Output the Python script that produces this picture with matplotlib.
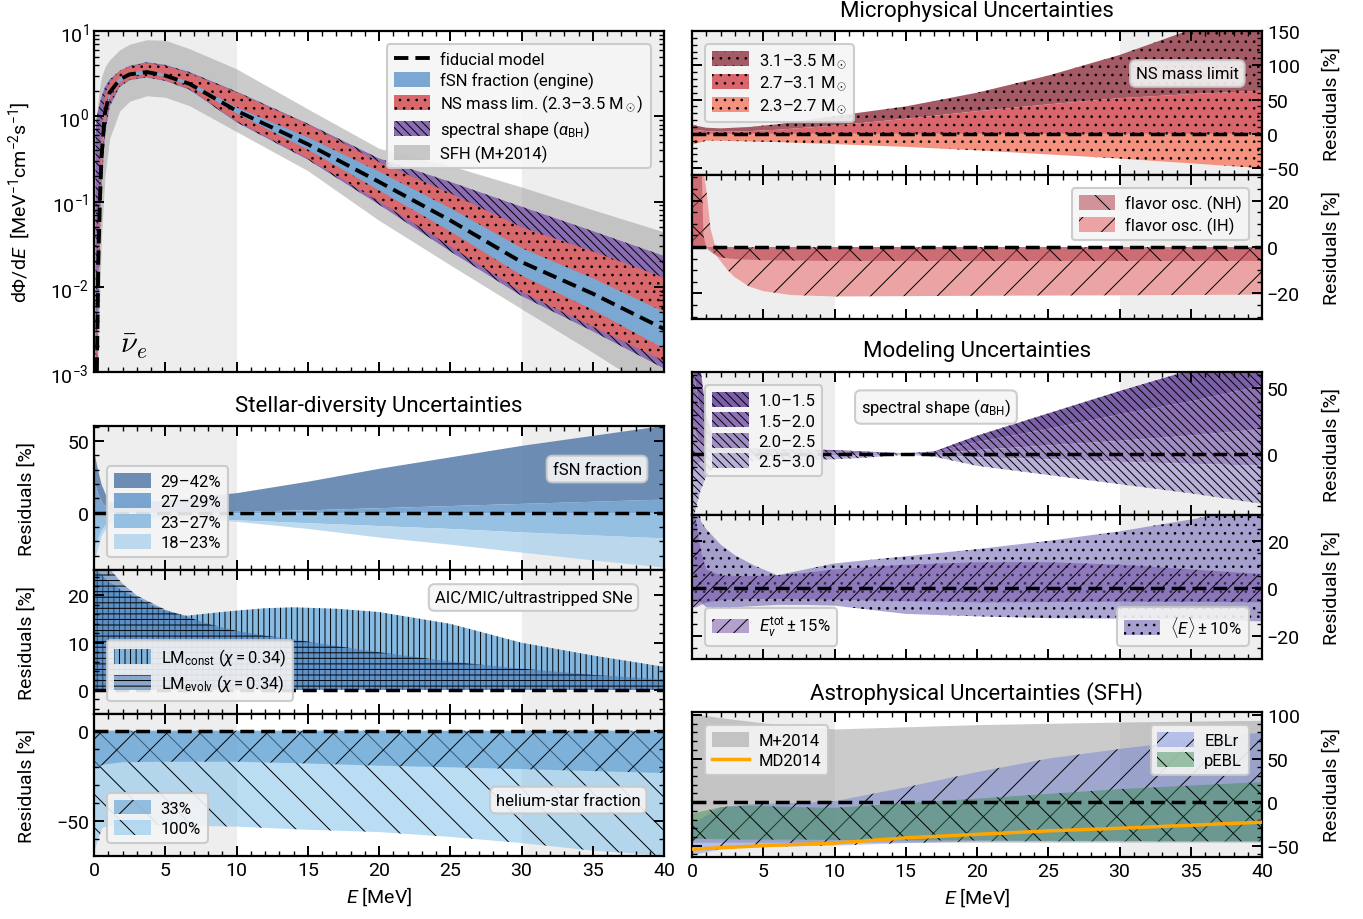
import matplotlib
matplotlib.use("Agg")
import matplotlib.pyplot as plt
from matplotlib import font_manager
from matplotlib.colors import to_rgba
from matplotlib.ticker import MultipleLocator, LogLocator, NullFormatter

# Fuente angosta si esta instalada, si no Roboto
nombres = {f.name for f in font_manager.fontManager.ttflist}
fuente = "Liberation Sans Narrow" if "Liberation Sans Narrow" in nombres else "Roboto"
plt.rcParams["font.family"] = [fuente, "DejaVu Sans"]
plt.rcParams["mathtext.fontset"] = "custom"
plt.rcParams["mathtext.rm"] = fuente
plt.rcParams["mathtext.it"] = fuente + ":italic"
plt.rcParams["mathtext.bf"] = fuente + ":bold"
plt.rcParams["hatch.linewidth"] = 0.7
plt.rcParams["legend.fancybox"] = True
plt.rcParams["legend.facecolor"] = "#f5f5f5"
plt.rcParams["legend.edgecolor"] = "#c8c8c8"
plt.rcParams["legend.framealpha"] = 0.9
plt.rcParams["legend.borderaxespad"] = 0.8

# ---------------- Panel principal: flujo ----------------
E_flujo = [0.1, 0.2, 0.3, 0.42, 0.53, 0.77, 1.1, 1.8, 2.5, 3.7, 5, 6.7, 10, 15, 20, 25, 30, 35, 40]
fiducial = [1e-4, 0.001, 0.02, 0.11, 0.34, 1.1, 1.9, 2.7, 3.1, 3.3, 3.0, 2.4, 1.16, 0.47, 0.17, 0.06, 0.0195, 0.0083, 0.0032]
fsn_alto = [1.4e-4, 0.0014, 0.027, 0.143, 0.425, 1.27, 2.09, 2.92, 3.32, 3.5, 3.18, 2.54, 1.28, 0.57, 0.226, 0.084, 0.0287, 0.0127, 0.0051]
fsn_bajo = [7.5e-5, 0.00075, 0.0156, 0.088, 0.289, 0.99, 1.77, 2.57, 2.98, 3.2, 2.91, 2.3, 1.09, 0.41, 0.136, 0.045, 0.0137, 0.0054, 0.0019]
ns_alto = [4e-4, 0.004, 0.06, 0.3, 0.7, 1.8, 2.5, 3.4, 3.8, 4.2, 3.9, 3.2, 1.9, 0.8, 0.29, 0.125, 0.05, 0.026, 0.0128]
ns_bajo = [5e-5, 0.0005, 0.01, 0.06, 0.2, 0.75, 1.5, 2.3, 2.7, 2.9, 2.65, 2.1, 0.88, 0.32, 0.1, 0.03, 0.0087, 0.0034, 0.00135]
esp_alto = [0.6, 1.0, 1.2, 1.45, 1.7, 2.2, 2.7, 3.4, 3.9, 4.3, 4.0, 3.3, 1.95, 0.82, 0.32, 0.17, 0.087, 0.045, 0.023]
esp_bajo = [3e-5, 0.0003, 0.005, 0.04, 0.15, 0.6, 1.3, 2.2, 2.65, 2.85, 2.6, 2.05, 0.85, 0.31, 0.092, 0.026, 0.0078, 0.003, 0.0011]
sfh_alto = [0.9, 1.1, 1.6, 2.3, 2.9, 3.8, 4.6, 6.0, 7.0, 7.9, 7.8, 6.2, 3.6, 1.22, 0.42, 0.263, 0.148, 0.08, 0.044]
sfh_bajo = [1e-5, 1e-4, 0.002, 0.01, 0.04, 0.2, 0.55, 1.15, 1.5, 1.74, 1.67, 1.33, 0.66, 0.23, 0.06, 0.018, 0.0055, 0.0017, 0.0005]

# ---------------- NS mass limit (residuos %) ----------------
E_ns = [0, 1, 2, 4, 6, 10, 15, 20, 25, 30, 35, 40]
ns_31_35 = [13, 9, 8, 10, 14, 26, 40, 60, 85, 115, 152, 190]
ns_27_31 = [6, 4, 3, 4, 6, 12, 22, 33, 43, 52, 58, 63]
ns_23_27 = [-16, -10, -10, -11, -12, -15, -19, -24, -30, -36, -43, -50]

# ---------------- oscilaciones de sabor ----------------
E_nh = [0, 0.5, 0.7, 0.8, 1.0, 1.5, 2, 3, 5, 10, 20, 30, 40]
nh_alto = [35, 35, 30, 5, 0, 0, 0, 0, 0, 0, 0, 0, 0]
nh_bajo = [0, 0, 0, 0, -0.5, -3, -4.5, -5.2, -5.7, -6, -6, -6, -6]
E_ih = [0, 0.5, 0.8, 1.0, 1.3, 1.6, 2, 2.5, 3, 4, 5, 7, 10, 20, 30, 40]
ih_alto = [35, 35, 33, 25, 8, 1, 0, 0, 0, 0, 0, 0, 0, 0, 0, 0]
ih_bajo = [0, 0, 0, 0, -1, -3, -6, -10, -13, -17, -19, -20.7, -21.3, -21, -20.8, -20.5]

# ---------------- fSN fraction ----------------
E_fsn = [0, 0.25, 0.5, 1, 2, 5, 10, 15, 20, 25, 30, 35, 40]
fsn_29_42 = [42, 30, 20, 8, 6, 9, 14, 22, 31, 39, 47, 54, 61]
fsn_27_29 = [22, 14, 8, 2, 1, 0.5, 1, 2, 3.5, 5, 6.5, 8, 9.5]
fsn_23_27 = [-25, -18, -12, -6, -3.5, -3, -5, -7, -9, -11, -13.4, -15.5, -17.6]
fsn_18_23 = [-34, -25, -16, -8, -4.5, -4, -6, -11, -17, -22, -27.5, -33, -38]

# ---------------- AIC/MIC/ultrastripped ----------------
E_lm = [0, 0.5, 1, 2, 3, 4, 5, 6.5, 8, 10, 12, 14, 17, 20, 25, 30, 35, 40]
lm_const = [26, 24.5, 23, 21, 19.5, 18, 16.8, 15.7, 16.2, 16.8, 17.3, 17.5, 17.2, 16.5, 14, 10, 7.3, 4.9]
lm_evolv = [40, 31, 26, 22.5, 20, 18.5, 17, 15.5, 14, 12.5, 11.5, 10.7, 9.3, 8, 6, 4.5, 3.2, 2.2]

# ---------------- helium-star fraction ----------------
E_he = [0, 0.3, 0.6, 1, 2, 5, 10, 15, 20, 25, 30, 35, 40]
he_33 = [-21, -20, -19, -18.5, -17.5, -17.2, -17.2, -18.2, -19.4, -20.3, -21.3, -22.4, -23.5]
he_100 = [-68, -60, -54, -53, -52, -52.5, -53.3, -55, -56.3, -59, -62.4, -66.6, -69.4]

# ---------------- spectral shape (alpha_BH) ----------------
E_alfa = [0, 0.3, 0.6, 1, 1.5, 2, 3, 5, 8, 10, 12, 15, 17, 20, 25, 30, 35, 40]
alfa_10 = [120, 95, 65, 30, 12, 7, 5, 4, 3.5, 3, 2, 0.5, 2, 14, 31, 48, 64, 85]
alfa_15 = [70, 50, 32, 15, 7, 5, 4, 3.2, 2.7, 2.2, 1.5, 0.3, 1.4, 9, 19, 30, 40, 52]
alfa_20 = [25, 15, 8, 4, 2.5, 2, 1.8, 1.5, 1.2, 1, 0.6, 0.1, 0.5, 3, 6.5, 10, 14, 19]
alfa_25 = [-15, -9, -6, -4, -3, -2.5, -2, -1.8, -1.5, -1.3, -1, 0, -0.5, -2.5, -4, -6, -7.5, -9]
alfa_30 = [-55, -40, -28, -17, -11, -8, -6, -5, -4.5, -4, -3, -0.5, -2, -9, -16, -23, -30, -38]
etiquetas_alfa = ["1.0–1.5", "1.5–2.0", "2.0–2.5", "2.5–3.0"]

# ---------------- Etot y <E> ----------------
E_ener = [0, 0.3, 0.65, 1, 2, 3, 4.4, 6, 8, 10, 15, 20, 25, 30, 35, 40]
emed_alto = [45, 38, 28, 25, 18.5, 14, 9.5, 5.5, 8, 10.5, 13.5, 16.5, 20, 24, 29, 35]
emed_bajo = [-8, -5, -6, -8, -8.5, -8, -7.5, -7, -7, -7.3, -10.8, -11.8, -12.6, -12.8, -13, -14]
etot_alto = [40, 28, 15, 8, 5.5, 5.2, 5.2, 5.5, 6.5, 8, 10, 11, 11, 10, 8, 6]
etot_bajo = [-8, -8, -7, -6, -5, -4.7, -4.5, -4.5, -4.6, -4.8, -5.4, -5.9, -5.8, -5.6, -5.7, -5.9]

# ---------------- SFH ----------------
E_mas = [0, 2, 5, 10, 20, 30, 40]
mas_alto = [102, 97, 91, 84, 89, 92, 94]
mas_bajo = [-46, -46, -46, -46, -46, -46, -46]
E_ebl = [0, 2, 4, 6, 8, 10, 15, 20, 25, 30, 35, 40]
eblr_alto = [-25, -6, -2.5, -1.5, -0.5, 1, 17, 34.5, 50, 61, 71, 80]
eblr_bajo = [-61, -54, -52, -51, -50.5, -50, -47, -45, -45, -45, -45, -45]
pebl_alto = [-13.5, -5.8, -4, -5, -6, -6.5, -1, 4, 9.5, 15, 19, 23]
pebl_bajo = [-42, -42.5, -43, -43, -43, -43.5, -44, -44, -44.5, -44.5, -45, -45]
E_md = [0, 5, 10, 15, 20, 25, 30, 35, 40]
md2014 = [-54, -50, -47, -41, -37, -33, -30, -26.5, -23]

sombra = "#eeeeee"
W, H = 1363, 920
fig = plt.figure(figsize=(W / 100, H / 100), dpi=100)


def caja(x0, y0, x1, y1):
    # ejes en coordenadas de pixel (origen arriba a la izquierda)
    return fig.add_axes([x0 / W, 1 - y1 / H, (x1 - x0) / W, (y1 - y0) / H])


def estilo(ax, mayor=None, menor=None, derecha=False, residuo=True):
    ax.set_xlim(0, 40)
    ax.axvspan(0, 10, color=sombra, lw=0, zorder=0)
    ax.axvspan(30, 40, color=sombra, lw=0, zorder=0)
    ax.xaxis.set_major_locator(MultipleLocator(5))
    ax.xaxis.set_minor_locator(MultipleLocator(1))
    if mayor:
        ax.yaxis.set_major_locator(MultipleLocator(mayor))
        ax.yaxis.set_minor_locator(MultipleLocator(menor))
    ax.tick_params(which="both", direction="in", top=True, right=True, left=True, bottom=True,
                   labelsize=14, labelbottom=False)
    ax.tick_params(which="major", length=7, width=1.4)
    ax.tick_params(which="minor", length=3.5, width=1.0)
    for s in ax.spines.values():
        s.set_linewidth(1.6)
    if residuo:
        ax.axhline(0, color="k", lw=2.5, ls=(0, (4, 2)), zorder=6)
        ax.set_ylabel("Residuals [%]", fontsize=14)
        if derecha:
            ax.tick_params(labelleft=False, labelright=True)
            ax.yaxis.set_label_position("right")
            ax.yaxis.set_label_coords(1.105, 0.5)
        else:
            ax.yaxis.set_label_coords(-0.103, 0.5)


def banda(ax, x, lo, hi, color, alfa=1.0, rayado=None, **kw):
    return ax.fill_between(x, lo, hi, facecolor=to_rgba(color, alfa), edgecolor="k",
                           hatch=rayado, linewidth=0, **kw)


def leyenda(ax, loc, **kw):
    leg = ax.legend(loc=loc, fontsize=12, handlelength=2.2, handleheight=1.0,
                    labelspacing=0.25, borderpad=0.4, handletextpad=0.6, **kw)
    leg.get_frame().set_linewidth(1.5)
    leg.set_zorder(10)
    return leg


def rotulo(ax, x, y, texto):
    ax.text(x, y, texto, transform=ax.transAxes, ha="center", va="center", fontsize=12, zorder=10,
            bbox=dict(boxstyle="round,pad=0.35", fc="#f5f5f5", ec="#c8c8c8", lw=1.5, alpha=0.9))


# ---------- panel principal ----------
ax0 = caja(94, 32, 664, 373)
estilo(ax0, residuo=False)
ax0.set_yscale("log")
ax0.set_ylim(1e-3, 1e1)
ax0.yaxis.set_major_locator(LogLocator(base=10))
ax0.yaxis.set_minor_locator(LogLocator(base=10, subs=range(2, 10)))
ax0.yaxis.set_minor_formatter(NullFormatter())
banda(ax0, E_flujo, sfh_bajo, sfh_alto, (0.6, 0.6, 0.6), 0.5, label="SFH (M+2014)")
banda(ax0, E_flujo, esp_bajo, esp_alto, "#8a6cb2", 1.0, r"\\\\", label=r"spectral shape ($\alpha_{\rm BH}$)")
banda(ax0, E_flujo, ns_bajo, ns_alto, "#d9686d", 1.0, "..", label=r"NS mass lim. (2.3–3.5 M$_\odot$)")
banda(ax0, E_flujo, fsn_bajo, fsn_alto, "#7aa8d2", 1.0, label="fSN fraction (engine)")
ax0.plot(E_flujo, fiducial, color="k", lw=2.8, ls=(0, (3.7, 1.8)), label="fiducial model", zorder=6)
h, l = ax0.get_legend_handles_labels()
orden = [4, 3, 2, 1, 0]
leyenda(ax0, "upper right", handles=[h[i] for i in orden], labels=[l[i] for i in orden])
ax0.set_ylabel(r"d$\mathit{\Phi}$/d$\mathit{E}$  [MeV$^{-1}$cm$^{-2}$s$^{-1}$]", fontsize=14)
ax0.yaxis.set_label_coords(-0.107, 0.5)
ax0.text(0.045, 0.035, r"$\bar{\nu}_e$", transform=ax0.transAxes, fontsize=22,
         math_fontfamily="cm", ha="left", va="bottom")

# ---------- Microphysical: NS mass limit ----------
ax1 = caja(692, 32, 1262, 176)
estilo(ax1, 50, 10, derecha=True)
ax1.set_ylim(-60, 150)
banda(ax1, E_ns, ns_27_31, ns_31_35, "#a35a65", 1.0, "..", label=r"3.1–3.5 M$_\odot$")
banda(ax1, E_ns, 0, ns_27_31, "#d8666c", 1.0, "..", label=r"2.7–3.1 M$_\odot$")
banda(ax1, E_ns, ns_23_27, 0, "#f4927f", 1.0, "..", label=r"2.3–2.7 M$_\odot$")
leyenda(ax1, "upper left")
rotulo(ax1, 0.869, 0.705, "NS mass limit")

# ---------- Microphysical: flavor osc ----------
ax2 = caja(692, 176, 1262, 320)
estilo(ax2, 20, 5, derecha=True)
ax2.set_ylim(-31, 31)
banda(ax2, E_ih, ih_bajo, ih_alto, "#eba3a3", 1.0, "/", label="flavor osc. (IH)")
banda(ax2, E_nh, nh_bajo, nh_alto, (0.7, 0.25, 0.3), 0.55, "\\", label="flavor osc. (NH)")
h, l = ax2.get_legend_handles_labels()
leyenda(ax2, "upper right", handles=h[::-1], labels=l[::-1])

# ---------- Stellar diversity: fSN fraction ----------
ax3 = caja(94, 427, 664, 571)
estilo(ax3, 50, 10)
ax3.set_ylim(-40, 60.5)
banda(ax3, E_fsn, fsn_27_29, fsn_29_42, "#5f82ad", 0.9, label="29–42%")
banda(ax3, E_fsn, 0, fsn_27_29, "#6c9dcc", 0.9, label="27–29%")
banda(ax3, E_fsn, fsn_23_27, 0, "#8bbbe0", 0.9, label="23–27%")
banda(ax3, E_fsn, fsn_18_23, fsn_23_27, "#b2d4ec", 0.85, label="18–23%")
leyenda(ax3, "lower left")
rotulo(ax3, 0.8825, 0.701, "fSN fraction")

# ---------- Stellar diversity: AIC/MIC ----------
ax4 = caja(94, 571, 664, 715)
estilo(ax4, 10, 2)
ax4.set_ylim(-5.1, 25.4)
banda(ax4, E_lm, 0, lm_const, (0.33, 0.62, 0.84), 0.7, "|||", label=r"LM$_{\rm const}$ ($\chi = 0.34$)")
banda(ax4, E_lm, 0, lm_evolv, (0.25, 0.45, 0.7), 0.55, "---", label=r"LM$_{\rm evolv}$ ($\chi = 0.34$)")
leyenda(ax4, "lower left")
rotulo(ax4, 0.771, 0.809, "AIC/MIC/ultrastripped SNe")

# ---------- Stellar diversity: helium stars ----------
ax5 = caja(94, 715, 664, 857)
estilo(ax5, 50, 10)
ax5.set_ylim(-69.6, 9.3)
banda(ax5, E_he, he_100, 0, (0.55, 0.78, 0.93), 0.6, "\\", label="100%")
banda(ax5, E_he, he_33, 0, (0.35, 0.6, 0.8), 0.6, "/", label="33%")
h, l = ax5.get_legend_handles_labels()
leyenda(ax5, "lower left", handles=h[::-1], labels=l[::-1])
rotulo(ax5, 0.832, 0.394, "helium-star fraction")
ax5.tick_params(labelbottom=True)
ax5.set_xlabel(r"$E$ [MeV]", fontsize=14)

# ---------- Modeling: spectral shape ----------
ax6 = caja(692, 373, 1262, 516)
estilo(ax6, 50, 10, derecha=True)
ax6.set_ylim(-46.5, 62.5)
curvas = [alfa_10, alfa_15, alfa_20, alfa_25, alfa_30]
tonos = ["#7b5fa7", "#8d72b4", "#a08ec4", "#bab1d8"]
for i in range(4):
    banda(ax6, E_alfa, curvas[i + 1], curvas[i], tonos[i], 1.0, r"\\\\", label=etiquetas_alfa[i])
leyenda(ax6, "upper left")
rotulo(ax6, 0.428, 0.755, r"spectral shape ($\alpha_{\rm BH}$)")

# ---------- Modeling: Etot y <E> ----------
ax7 = caja(692, 516, 1262, 660)
estilo(ax7, 20, 5, derecha=True)
ax7.set_ylim(-29.8, 30.9)
b_emed = banda(ax7, E_ener, emed_bajo, emed_alto, (0.45, 0.42, 0.72), 0.6, "..")
b_etot = banda(ax7, E_ener, etot_bajo, etot_alto, (0.45, 0.3, 0.65), 0.5, "//")
l1 = leyenda(ax7, "lower left", handles=[b_etot], labels=[r"$E_\nu^{\rm tot} \pm 15\%$"])
ax7.add_artist(l1)
leyenda(ax7, "lower right", handles=[b_emed], labels=[r"$\langle E \rangle \pm 10\%$"])

# ---------- Astrophysical: SFH ----------
ax8 = caja(692, 713, 1262, 858)
estilo(ax8, 50, 10, derecha=True)
ax8.set_ylim(-63, 103.5)
b_mas = banda(ax8, E_mas, mas_bajo, mas_alto, (0.6, 0.6, 0.6), 0.5)
b_eblr = banda(ax8, E_ebl, eblr_bajo, eblr_alto, (0.3, 0.4, 0.85), 0.35, "/")
b_pebl = banda(ax8, E_ebl, pebl_bajo, pebl_alto, (0.2, 0.55, 0.3), 0.45, "\\")
l_md, = ax8.plot(E_md, md2014, color="orange", lw=2.5, zorder=5)
l2 = leyenda(ax8, "upper left", handles=[b_mas, l_md], labels=["M+2014", "MD2014"])
ax8.add_artist(l2)
leyenda(ax8, "upper right", handles=[b_eblr, b_pebl], labels=["EBLr", "pEBL"])
ax8.tick_params(labelbottom=True)
ax8.set_xlabel(r"$E$ [MeV]", fontsize=14)

# ---------- titulos de cada grupo ----------
fig.text(977 / W, 1 - 12 / H, "Microphysical Uncertainties", ha="center", va="center", fontsize=16)
fig.text(379 / W, 1 - 407 / H, "Stellar-diversity Uncertainties", ha="center", va="center", fontsize=16)
fig.text(977 / W, 1 - 352 / H, "Modeling Uncertainties", ha="center", va="center", fontsize=16)
fig.text(977 / W, 1 - 694 / H, "Astrophysical Uncertainties (SFH)", ha="center", va="center", fontsize=16)

fig.savefig("out.png", dpi=100)
